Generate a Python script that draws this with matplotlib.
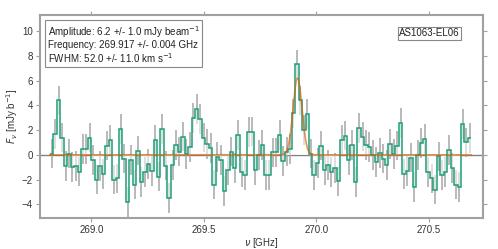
import numpy as np
import matplotlib
matplotlib.use("Agg")
import matplotlib.pyplot as plt

plt.rcParams['font.family'] = ['Liberation Sans', 'DejaVu Sans']
plt.rcParams['mathtext.fontset'] = 'dejavusans'

# ---- data ----
flux = [
    # 268.82 - 269.03
    0.1, 1.7, 4.4, 1.4, -0.9, 0.1, -1.0, -0.9, -1.35, 0.45, 0.45, 1.4, -0.4, -2.0,
    # 269.03 - 269.26
    -0.9, -1.55, 0.75, 1.2, -2.0, -1.9, 2.1, -0.3, -3.8, -0.4, -2.4, 0.35, -2.2, -1.4, -0.75,
    # 269.26 - 269.50
    -1.3, 1.2, -1.75, 2.1, -0.86, -3.5, -0.8, 0.8, 0.27, 1.48, 0.05, 0.65, 3.0, 3.7, 2.9, 1.4,
    # 269.50 - 269.74
    0.87, 0.54, -2.4, -0.2, -0.4, -2.9, -1.2, 0.27, -1.08, 1.61, -1.4, -1.6, 1.83, 1.88,
    # 269.74 - 269.98
    -1.25, 0.0, 0.8, -1.6, -1.6, 0.2, 0.2, 1.6, -0.5, 0.27, 0.45, 3.35, 7.3, 4.4, 2.0, 3.3, 0.1,
    # 269.98 - 270.22
    -1.6, -0.67, 0.75, -1.21, -0.8, -1.4, -1.08, -2.15, 1.21, 1.56, -0.4, 0.81, -2.2, 2.15, 1.48,
    # 270.22 - 270.46
    0.8, 0.65, 0.0, -0.6, 0.13, -0.3, -0.8, 0.86, 0.05, 0.75, 2.55, -1.56, -1.29, -0.22, -2.6, 0.0,
    # 270.46 - 270.69
    0.94, 1.3, -1.4, -1.9, -2.8, -0.13, -1.6, -1.4, 0.4, -1.08, -2.4, -2.6, 2.47, 1.0, 1.34,
]
rms = 1.2                      # per-channel uncertainty [mJy/beam]
f_start, f_end = 268.816, 270.690   # spectral coverage [GHz]

# Gaussian fit parameters (from the annotation)
fit_amp = 6.2          # mJy/beam
fit_freq = 269.917     # GHz
fit_fwhm_kms = 52.0    # km/s
model_end = 270.69

xticks = [269.0, 269.5, 270.0, 270.5]
yticks = [-4, -2, 0, 2, 4, 6, 8, 10]

teal = '#1b9e77'
orange = '#d95f02'
spine_gray = '#a0a0a0'

# ---- derived ----
flux = np.array(flux)
n = len(flux)
edges = np.linspace(f_start, f_end, n + 1)
centers = 0.5 * (edges[:-1] + edges[1:])
c_kms = 299792.458
sigma = fit_fwhm_kms / c_kms * fit_freq / 2.3548
fm = np.linspace(f_start, model_end, 2000)
model = fit_amp * np.exp(-0.5 * ((fm - fit_freq) / sigma) ** 2)

fig = plt.figure(figsize=(4.98, 2.49), dpi=100)
ax = fig.add_axes([0.080, 0.1245, 0.890, 0.8155])

ax.axhline(0, color='#808080', lw=1.0, zorder=0.5)
ax.errorbar(centers, flux, yerr=rms, fmt='none', ecolor='#a6a6a6',
            elinewidth=1.1, capsize=0, zorder=1)
ax.stairs(flux, edges, baseline=0, fill=True, color='white', alpha=0.55,
          zorder=2, lw=0)
ax.stairs(flux, edges, baseline=None, color=teal, lw=1.1, zorder=3)
ax.plot(fm, model, color=orange, lw=1.2, alpha=0.65, zorder=4)

ax.set_xlim(268.771, 270.742)
ax.set_ylim(-5.1, 11.3)
ax.set_xticks(xticks)
ax.set_xticklabels([f"{t:.1f}" for t in xticks])
ax.set_yticks(yticks)

for s in ax.spines.values():
    s.set_color(spine_gray)
    s.set_linewidth(1.5)
ax.tick_params(direction='out', length=3, width=0.8, colors=spine_gray,
               labelcolor='#333333', labelsize=7, top=True, right=True,
               labeltop=False, labelright=False, pad=2)

ax.set_xlabel(r'$\nu$ [GHz]', fontsize=7, color='#333333', labelpad=0.5)
ax.set_ylabel(r'$F_\nu$ [mJy b$^{-1}$]', fontsize=7, color='#333333', labelpad=1)

txt = ("Amplitude: 6.2 +/- 1.0 mJy beam$^{-1}$\n"
       "Frequency: 269.917 +/- 0.004 GHz\n"
       "FWHM: 52.0 +/- 11.0 km s$^{-1}$")
ax.text(0.018, 0.955, txt, transform=ax.transAxes, fontsize=7, va='top', ha='left',
        linespacing=1.05, color='#222222',
        bbox=dict(boxstyle='square,pad=0.25', facecolor='white', edgecolor='#888888', lw=0.8),
        zorder=10)
ax.text(0.948, 0.935, "AS1063-EL06", transform=ax.transAxes, fontsize=7,
        va='top', ha='right', color='#222222',
        bbox=dict(boxstyle='square,pad=0.15', facecolor='white', edgecolor='#888888', lw=0.8),
        zorder=10)

fig.savefig('out.png', dpi=100)
